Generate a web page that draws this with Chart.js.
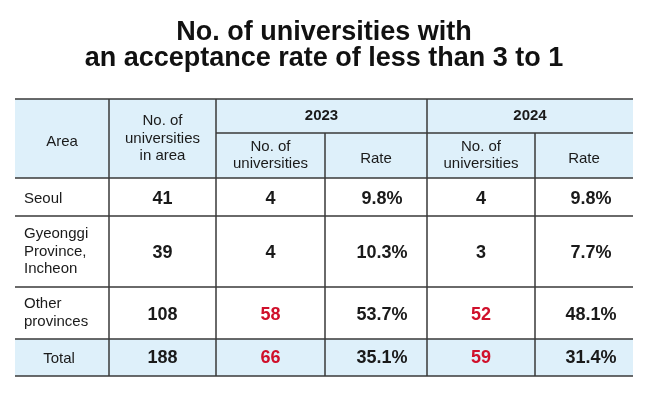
<!DOCTYPE html>
<html>
<head>
<meta charset="utf-8">
<title>No. of universities with an acceptance rate of less than 3 to 1</title>
<script src="https://cdn.jsdelivr.net/npm/chart.js@4.4.1/dist/chart.umd.min.js"></script>
<style>
  html, body { margin: 0; padding: 0; background: #fff; }
  #wrap { width: 658px; height: 412px; position: relative; }
</style>
</head>
<body>
<div id="wrap"><canvas id="tableChart"></canvas></div>
<script>
'use strict';

// data
const titleLines = ['No. of universities with', 'an acceptance rate of less than 3 to 1'];
const years = ['2023', '2024'];
const areas = ['Seoul', 'Gyeonggi\nProvince,\nIncheon', 'Other\nprovinces'];
const totalLabel = 'Total';
const uniInArea = [41, 39, 108];
const uniTotal = 188;
const count2023 = [4, 4, 58];
const rate2023 = [9.8, 10.3, 53.7];
const count2024 = [4, 3, 52];
const rate2024 = [9.8, 7.7, 48.1];
const totals2023 = [66, 35.1];
const totals2024 = [59, 31.4];
// counts shown in red in the source
const red2023 = [false, false, true, true];
const red2024 = [false, false, true, true];

// table layout (scale units)
const colWidths = [94, 107, 109, 102, 108, 98];
const rowHeights = [34, 45, 38, 71, 52, 37];

const FONT = "'Liberation Sans', Arial, Helvetica, sans-serif";
const INK = '#1a1a1a';
const RED = '#d0102b';
const BLUE = '#def0fa';
const RULE = '#3a3a3a';

function edges(sizes) {
  let out = [0];
  for (let i = 0; i < sizes.length; i++) {
    out.push(out[i] + sizes[i]);
  }
  return out;
}
const colEdges = edges(colWidths);
const rowEdges = edges(rowHeights);

function cell(col, row, text, opts) {
  return Object.assign({ col: col, row: row, colSpan: 1, rowSpan: 1, text: text,
    size: 15, bold: false, color: INK, align: 'center', dx: 0, dy: 0 }, opts || {});
}

let cells = [];
cells.push(cell(0, 0, 'Area', { rowSpan: 2, dy: 3 }));
cells.push(cell(1, 0, 'No. of\nuniversities\nin area', { rowSpan: 2 }));
cells.push(cell(2, 0, years[0], { colSpan: 2, bold: true }));
cells.push(cell(4, 0, years[1], { colSpan: 2, bold: true }));
cells.push(cell(2, 1, 'No. of\nuniversities'));
cells.push(cell(3, 1, 'Rate', { dy: 3 }));
cells.push(cell(4, 1, 'No. of\nuniversities'));
cells.push(cell(5, 1, 'Rate', { dy: 3 }));

for (let i = 0; i < areas.length; i++) {
  let row = i + 2;
  let one = areas[i].indexOf('\n') < 0;
  cells.push(cell(0, row, areas[i], { align: 'left', dx: 9, dy: one ? 2 : 0 }));
  cells.push(cell(1, row, String(uniInArea[i]), { size: 18, bold: true, dy: 2 }));
  cells.push(cell(2, row, String(count2023[i]), { size: 18, bold: true, dy: 2, color: red2023[i] ? RED : INK }));
  cells.push(cell(3, row, rate2023[i].toFixed(1) + '%', { size: 18, bold: true, dy: 2, dx: 6 }));
  cells.push(cell(4, row, String(count2024[i]), { size: 18, bold: true, dy: 2, color: red2024[i] ? RED : INK }));
  cells.push(cell(5, row, rate2024[i].toFixed(1) + '%', { size: 18, bold: true, dy: 2, dx: 7 }));
}

cells.push(cell(0, 5, totalLabel, { dx: -3, dy: 1 }));
cells.push(cell(1, 5, String(uniTotal), { size: 18, bold: true, dy: 1 }));
cells.push(cell(2, 5, String(totals2023[0]), { size: 18, bold: true, dy: 1, color: red2023[3] ? RED : INK }));
cells.push(cell(3, 5, totals2023[1].toFixed(1) + '%', { size: 18, bold: true, dy: 1, dx: 6 }));
cells.push(cell(4, 5, String(totals2024[0]), { size: 18, bold: true, dy: 1, color: red2024[3] ? RED : INK }));
cells.push(cell(5, 5, totals2024[1].toFixed(1) + '%', { size: 18, bold: true, dy: 1, dx: 7 }));

// blue fills: both header rows and the total row
let fills = [
  { c0: 0, c1: 6, r0: 0, r1: 2 },
  { c0: 0, c1: 6, r0: 5, r1: 6 }
];

// rules: horizontal [row edge, from col, to col], vertical [col edge, from row, to row]
let hRules = [[0, 0, 6], [1, 2, 6], [2, 0, 6], [3, 0, 6], [4, 0, 6], [5, 0, 6], [6, 0, 6]];
let vRules = [[1, 0, 6], [2, 0, 6], [3, 1, 6], [4, 0, 6], [5, 1, 6]];

const tablePlugin = {
  id: 'tablePlugin',
  beforeDatasetsDraw(chart) {
    let ctx = chart.ctx;
    let xs = chart.scales.x;
    let ys = chart.scales.y;
    ctx.save();
    ctx.fillStyle = BLUE;
    for (let f of fills) {
      let x0 = xs.getPixelForValue(colEdges[f.c0]);
      let x1 = xs.getPixelForValue(colEdges[f.c1]);
      let y0 = ys.getPixelForValue(rowEdges[f.r0]);
      let y1 = ys.getPixelForValue(rowEdges[f.r1]);
      ctx.fillRect(x0, y0, x1 - x0, y1 - y0);
    }
    ctx.strokeStyle = RULE;
    ctx.lineWidth = 1.5;
    ctx.beginPath();
    for (let h of hRules) {
      let y = ys.getPixelForValue(rowEdges[h[0]]);
      ctx.moveTo(xs.getPixelForValue(colEdges[h[1]]), y);
      ctx.lineTo(xs.getPixelForValue(colEdges[h[2]]), y);
    }
    for (let v of vRules) {
      let x = xs.getPixelForValue(colEdges[v[0]]);
      ctx.moveTo(x, ys.getPixelForValue(rowEdges[v[1]]));
      ctx.lineTo(x, ys.getPixelForValue(rowEdges[v[2]]));
    }
    ctx.stroke();
    ctx.restore();
  },
  afterDatasetsDraw(chart) {
    let ctx = chart.ctx;
    let xs = chart.scales.x;
    let ys = chart.scales.y;
    ctx.save();
    ctx.textBaseline = 'middle';
    for (let c of cells) {
      let x0 = xs.getPixelForValue(colEdges[c.col]);
      let x1 = xs.getPixelForValue(colEdges[c.col + c.colSpan]);
      let y0 = ys.getPixelForValue(rowEdges[c.row]);
      let y1 = ys.getPixelForValue(rowEdges[c.row + c.rowSpan]);
      let lines = c.text.split('\n');
      let lh = c.size * 1.17;
      let yc = (y0 + y1) / 2 + c.dy;
      let startY = yc - (lines.length - 1) * lh / 2;
      ctx.font = (c.bold ? 'bold ' : '') + c.size + 'px ' + FONT;
      ctx.fillStyle = c.color;
      ctx.textAlign = c.align;
      let x = c.align === 'left' ? x0 + c.dx : (x0 + x1) / 2 + c.dx;
      for (let i = 0; i < lines.length; i++) {
        ctx.fillText(lines[i], x, startY + i * lh);
      }
    }
    ctx.restore();
  }
};

const config = {
  type: 'scatter',
  data: { datasets: [] },
  options: {
    responsive: true,
    maintainAspectRatio: false,
    animation: false,
    layout: { padding: { left: 15, right: 25, top: 0, bottom: 36 } },
    scales: {
      x: { type: 'linear', min: 0, max: colEdges[colEdges.length - 1], display: false },
      y: { type: 'linear', min: 0, max: rowEdges[rowEdges.length - 1], reverse: true, display: false }
    },
    plugins: {
      legend: { display: false },
      tooltip: { enabled: false },
      title: {
        display: true,
        text: titleLines,
        color: '#111',
        font: { family: FONT, size: 27, weight: 'bold', lineHeight: 0.963 },
        padding: { top: 20, bottom: 27 }
      }
    }
  },
  plugins: [tablePlugin]
};

const tableChart = new Chart(document.getElementById('tableChart'), config);
</script>
</body>
</html>
